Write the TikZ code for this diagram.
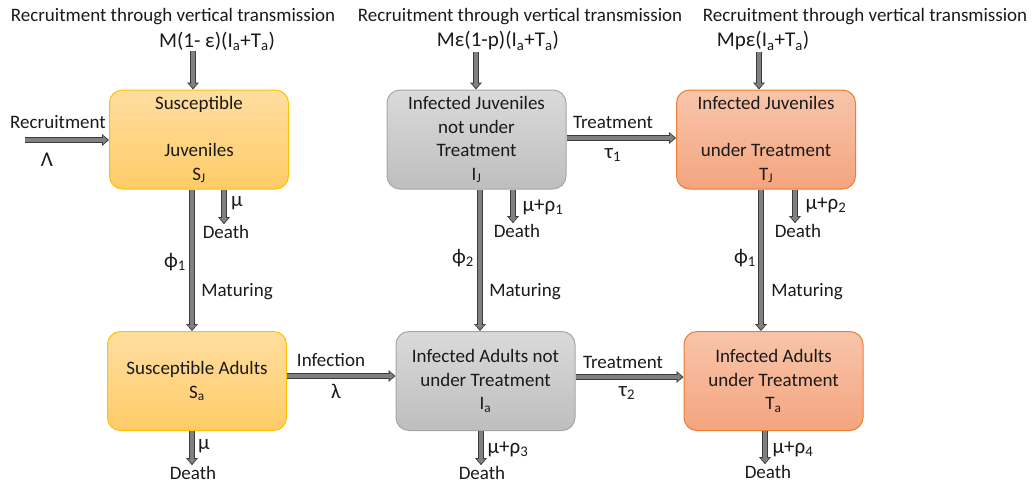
\documentclass[tikz,border=0pt]{standalone}
\usepackage{fontspec}
\setmainfont{Carlito}
\usetikzlibrary{arrows.meta,calc}
\definecolor{orTop}{HTML}{FFDEA0}
\definecolor{orBot}{HTML}{FFCB68}
\definecolor{orLine}{HTML}{FFC000}
\definecolor{grTop}{HTML}{DADADA}
\definecolor{grBot}{HTML}{BEBEBE}
\definecolor{grLine}{HTML}{A6A6A6}
\definecolor{saTop}{HTML}{F8C5AA}
\definecolor{saBot}{HTML}{F4A47F}
\definecolor{saLine}{HTML}{ED7D31}
\definecolor{arrDark}{HTML}{3A3A3A}
\definecolor{arrFill}{HTML}{808080}
\definecolor{txt}{HTML}{1A1A1A}
\tikzset{
  box/.style={rounded corners=13pt, minimum width=179pt, minimum height=99pt,
    align=center, inner sep=0pt, line width=1pt, text=txt},
  sbox/.style={box, draw=orLine, top color=orTop, bottom color=orBot},
  gbox/.style={box, draw=grLine, top color=grTop, bottom color=grBot},
  tbox/.style={box, draw=saLine, top color=saTop, bottom color=saBot},
  lbl/.style={inner sep=1pt, text=txt},
  big/.style={lbl, font=\fontsize{21}{24}\selectfont},
  bouter/.style={line width=6pt, draw=arrDark,
    -{Triangle[length=7pt,width=12pt,line width=0pt]}},
  binner/.style={line width=4pt, draw=arrFill, shorten >=1.5pt,
    -{Triangle[length=4.5pt,width=8.5pt,line width=0pt]}}
}
\newcommand\barrow[2]{\draw[bouter] #1 -- #2; \draw[binner] #1 -- #2;}
\begin{document}
\begin{tikzpicture}[x=1pt,y=-1pt,font=\fontsize{19}{23.5}\selectfont]
\useasboundingbox (0,0) rectangle (1032,485);
% boxes
\node[sbox] (sj) at (199,139.5) {Susceptible\\[0pt]\strut\\Juveniles\\S\textsubscript{J}};
\node[gbox] (ij) at (476.5,139.5) {Infected Juveniles\\not under\\Treatment\\I\textsubscript{J}};
\node[tbox] (tj) at (766,139.5) {Infected Juveniles\\\strut\\under Treatment\\T\textsubscript{J}};
\node[sbox] (sa) at (197,381) {Susceptible Adults\\S\textsubscript{a}};
\node[gbox] (ia) at (485.5,381) {Infected Adults not\\under Treatment\\I\textsubscript{a}};
\node[tbox] (ta) at (773.5,381) {Infected Adults\\under Treatment\\T\textsubscript{a}};
% top labels
\node[lbl] (t1) at (173,17) {Recruitment through vertical transmission};
\node[lbl] (t2) at (520,17) {Recruitment through vertical transmission};
\node[lbl] (t3) at (865,17) {Recruitment through vertical transmission};
\node[big] (f1) at (217,41) {M(1- ε)(I\textsubscript{a}+T\textsubscript{a})};
\node[big] (f2) at (498,41) {Mε(1-p)(I\textsubscript{a}+T\textsubscript{a})};
\node[big] (f3) at (763,41) {Mpε(I\textsubscript{a}+T\textsubscript{a})};
\coordinate (v1) at (193,0);
\coordinate (v2) at (476,0);
\coordinate (v3) at (759,0);
\barrow{(v1 |- f1.south)}{(v1 |- sj.north)}
\barrow{(v2 |- f2.south)}{(v2 |- ij.north)}
\barrow{(v3 |- f3.south)}{(v3 |- tj.north)}
% recruitment
\node[lbl] (rec) at (58,122) {Recruitment};
\node[big] (lam) at (47,160) {Λ};
\coordinate (r0) at (25,140);
\barrow{(r0)}{(r0 -| sj.west)}
% deaths top row
\node[lbl] (d1) at (226,232) {Death};
\node[lbl] (d2) at (517,231) {Death};
\node[lbl] (d3) at (798,231) {Death};
\coordinate (dx1) at (224,0);
\coordinate (dx2) at (513,0);
\coordinate (dx3) at (795,0);
\barrow{(dx1 |- sj.south)}{(dx1 |- d1.north)}
\barrow{(dx2 |- ij.south)}{(dx2 |- d2.north)}
\barrow{(dx3 |- tj.south)}{(dx3 |- d3.north)}
\node[big] at (237,203) {μ};
\node[big] at (543,207) {μ+ρ\textsubscript{1}};
\node[big] at (826,205) {μ+ρ\textsubscript{2}};
% maturing
\coordinate (m1) at (192,0);
\coordinate (m2) at (480,0);
\coordinate (m3) at (761,0);
\barrow{(m1 |- sj.south)}{(m1 |- sa.north)}
\barrow{(m2 |- ij.south)}{(m2 |- ia.north)}
\barrow{(m3 |- tj.south)}{(m3 |- ta.north)}
\node[big] at (175,262) {ϕ\textsubscript{1}};
\node[big] at (463,258) {ϕ\textsubscript{2}};
\node[big] at (745,258) {ϕ\textsubscript{1}};
\node[lbl] at (237,292) {Maturing};
\node[lbl] at (525,292) {Maturing};
\node[lbl] at (807,292) {Maturing};
% horizontal transitions
\coordinate (h1) at (0,138);
\coordinate (h2) at (0,376);
\coordinate (h3) at (0,377);
\barrow{(h1 -| ij.east)}{(h1 -| tj.west)}
\barrow{(h2 -| sa.east)}{(h2 -| ia.west)}
\barrow{(h3 -| ia.east)}{(h3 -| ta.west)}
\node[lbl] at (613,122) {Treatment};
\node[big] at (613,155) {τ\textsubscript{1}};
\node[lbl] at (331,360) {Infection};
\node[big] at (336,391) {λ};
\node[lbl] at (623,362) {Treatment};
\node[big] at (627,393) {τ\textsubscript{2}};
% deaths bottom row
\node[lbl] (d4) at (193,473) {Death};
\node[lbl] (d5) at (482,473) {Death};
\node[lbl] (d6) at (768,472) {Death};
\coordinate (dx4) at (192,0);
\coordinate (dx5) at (481,0);
\coordinate (dx6) at (765,0);
\barrow{(dx4 |- sa.south)}{(dx4 |- d4.north)}
\barrow{(dx5 |- ia.south)}{(dx5 |- d5.north)}
\barrow{(dx6 |- ta.south)}{(dx6 |- d6.north)}
\node[big] at (204,446) {μ};
\node[big] at (508,449) {μ+ρ\textsubscript{3}};
\node[big] at (793,449) {μ+ρ\textsubscript{4}};
\end{tikzpicture}
\end{document}
